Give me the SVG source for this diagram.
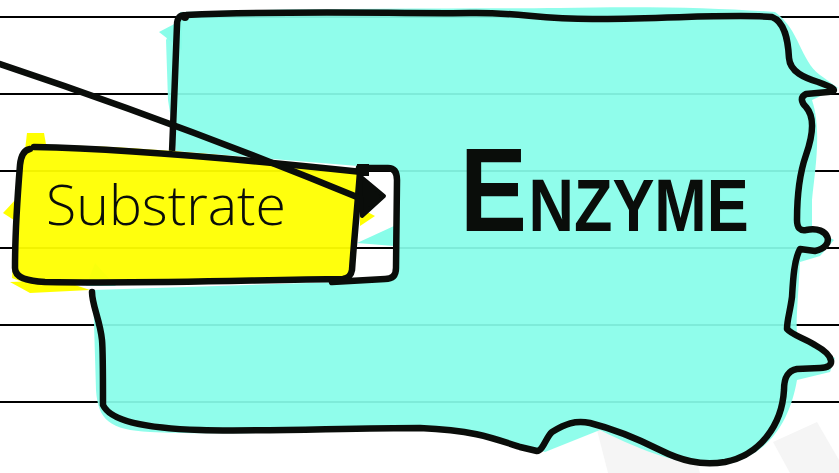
<svg xmlns="http://www.w3.org/2000/svg" width="839" height="473" viewBox="0 0 839 473">
<style>
.rule{stroke:#000;stroke-width:2}
.ink{fill:none;stroke:#0a0d0a;stroke-width:6.5;stroke-linecap:round;stroke-linejoin:round}
.cyan{fill:#88fde9}
.yel{fill:#ffff00}
.grey{fill:#f5f5f5}
.hand{font-family:"Open Sans","Liberation Sans",sans-serif;font-weight:300;fill:#0a0d0a}
.enz{font-family:"Liberation Sans",Arial,sans-serif;font-weight:bold;fill:#0a0d0a}
</style>
<rect width="839" height="473" fill="#fff"/>
<g id="background">
<polygon class="grey" points="597,430 680,400 700,473 608,473"/>
<polygon class="grey" points="773,442 817,422 839,460 839,473 790,473"/>
<line class="rule" x1="0" y1="17" x2="839" y2="17"/>
<line class="rule" x1="0" y1="94" x2="839" y2="94"/>
<line class="rule" x1="0" y1="171" x2="839" y2="171"/>
<line class="rule" x1="0" y1="248" x2="839" y2="248"/>
<line class="rule" x1="0" y1="325" x2="839" y2="325"/>
<line class="rule" x1="0" y1="402" x2="839" y2="402"/>
</g>
<g id="enzyme">
<path class="cyan" fill-opacity="0.93" d="M180,12 C300,8 450,9 560,8 C650,6 720,8 775,12 C800,30 800,60 820,75 L838,88 L812,100 C822,130 815,170 812,200 L812,228 L834,240 L820,256 L800,262 C798,300 796,320 797,335 L835,358 L830,372 L797,380 C790,420 770,455 725,465 C690,468 650,455 600,430 L545,452 C500,440 460,432 420,430 C300,432 200,435 150,432 C110,430 98,420 96,390 L93,290 L340,282 L390,280 L396,272 L397,176 L390,167 L358,166 L176,151 L168,100 L166,40 Z"/>
<polygon class="cyan" points="159,32 182,20 182,50"/>
<polygon class="cyan" points="95,263 86,286 116,286"/>
<polygon class="cyan" points="357,243 394,226 394,246"/>
<path class="ink" d="M172,153 C173,120 176,60 177,25 C177,18 180,15 186,15 C300,10 400,14 470,13 C520,12 540,20 600,19 C680,18 740,14 772,17 C785,22 788,40 789,58 C790,72 805,78 818,82 C832,87 840,91 828,92 L806,94 C800,97 801,102 806,107 C815,117 813,135 806,155 C799,175 797,195 797,220 C797,228 800,231 806,230 C830,225 836,247 815,251 L800,249 C794,260 793,280 792,297 C790,312 787,320 787,329 C792,335 804,338 815,345 C835,356 836,368 820,368 L797,369 C786,371 784,380 784,390 C782,425 760,455 725,462 C700,466 680,460 660,450 C630,435 610,428 590,423 C575,420 565,424 552,432 C546,437 543,451 537,451 L520,447 C490,437 470,430 420,428 C350,428 250,432 200,430 C140,428 110,420 103,405 C103,380 103,350 102,340 C100,320 92,305 92,292"/>
<circle cx="185" cy="17" r="4" fill="#0a0d0a"/>
<text class="enz" transform="translate(460,231) scale(0.85,1)"><tspan font-size="118">E</tspan><tspan font-size="74" dx="2">NZYME</tspan></text>
</g>
<g id="substrate">
<path class="yel" fill-opacity="0.95" d="M28,146 C120,143 250,158 360,170 L356,225 L352,276 C250,280 120,285 30,285 L12,278 L15,230 L20,160 Z"/>
<polygon class="yel" points="27,133 44,133 47,150 25,150"/>
<polygon class="yel" points="3,213 17,198 17,222"/>
<polygon class="yel" points="10,282 30,293 90,290 60,280"/>
<polygon class="yel" points="360,208 375,216 360,226"/>
<path class="ink" d="M34,147 C130,149 250,160 362,172"/>
<path class="ink" d="M360,172 C358,200 354,240 352,270 C351,276 348,278 343,279 C250,280 150,284 45,282 C25,281 15,277 15,268 C15,230 18,190 20,165 C21,155 24,150 30,149"/>
<text class="hand" x="46" y="225" font-size="56" textLength="240" lengthAdjust="spacingAndGlyphs">Substrate</text>
</g>
<g id="notch">
<path class="ink" d="M359,168 L388,168 C394,168 397,172 397,180 L396,268 C396,276 392,279 385,279 L332,282"/>
<rect x="357" y="164" width="12" height="12" fill="#0a0d0a"/>
</g>
<g id="connectors">
<path class="ink" d="M0,64 Q180,124 362,199"/>
<path d="M360,176 L384,196 L362,216 Z" fill="#0a0d0a" stroke="#0a0d0a" stroke-width="4" stroke-linejoin="round"/>
</g>
</svg>
